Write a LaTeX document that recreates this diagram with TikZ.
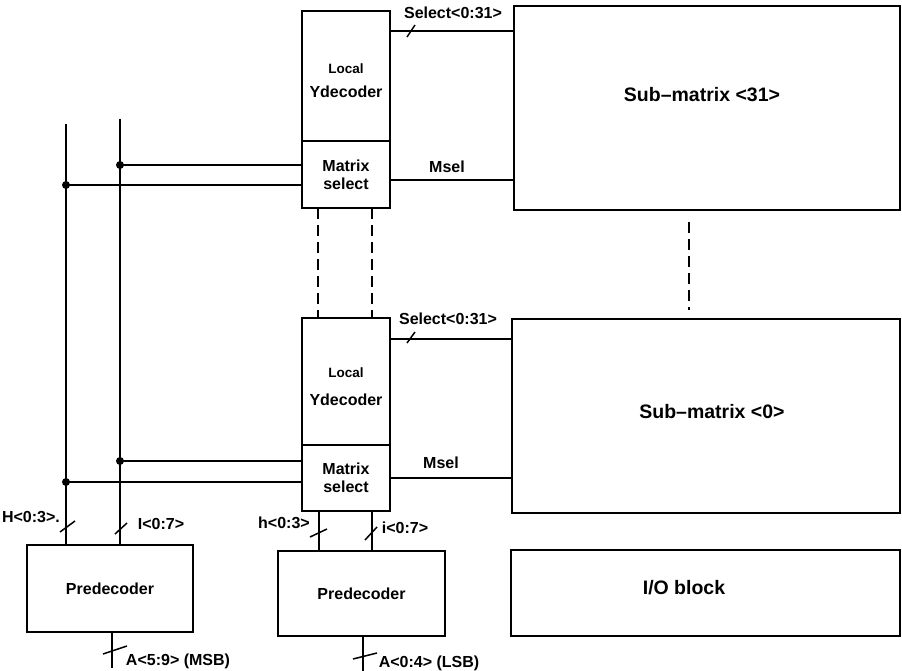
\documentclass[tikz,border=0pt]{standalone}
\usepackage{fontspec}
\setmainfont{Liberation Sans}
\usetikzlibrary{positioning,calc}

\begin{document}
\begin{tikzpicture}[x=1pt,y=-1pt,
    blk/.style={draw,line width=1.9pt,outer sep=0pt,inner sep=0pt,align=center,
      font=\fontsize{16}{18}\selectfont\bfseries},
    big/.style={font=\fontsize{19.5}{22}\selectfont\bfseries},
    lbl/.style={inner sep=0pt,font=\fontsize{16}{18}\selectfont\bfseries},
    wire/.style={line width=1.9pt},
    tick/.style={line width=1.5pt},
    dsh/.style={line width=1.9pt,dash pattern=on 11pt off 6pt}]
    \useasboundingbox (0,0) rectangle (902,671);
    % decoder column
    \node[blk,minimum width=88,minimum height=130] (ydec31) at (346,76)
      {\rule{0pt}{20pt}{\fontsize{13.5}{15}\selectfont Local}\\[6pt]Ydecoder};
    \node[blk,minimum width=88,minimum height=67,below=0pt of ydec31] (msel31) {Matrix\\select};
    \node[blk,minimum width=88,minimum height=127] (ydec0) at (346,381.5)
      {\rule{0pt}{20pt}{\fontsize{13.5}{15}\selectfont Local}\\[10pt]Ydecoder};
    \node[blk,minimum width=88,minimum height=66,below=0pt of ydec0] (msel0) {Matrix\\select};
    % sub-matrices
    \node[blk,minimum width=386,minimum height=204] (sub31) at (707,108) {};
    \node[big] (sub31txt) at (702,95) {Sub--matrix <31>};
    \node[blk,minimum width=388,minimum height=194] (sub0) at (706,416) {};
    \node[big] (sub0txt) at (712,412) {Sub--matrix <0>};
    \node[blk,minimum width=389,minimum height=86] (io) at (705.5,593) {};
    \node[big] (iotxt) at (684,588) {I/O block};
    % predecoders
    \node[blk,minimum width=166,minimum height=87] (predL) at (110,588.5) {Predecoder};
    \node[blk,minimum width=167,minimum height=85] (predR) at (361.5,593.5) {Predecoder};

    % global H / I buses
    \coordinate (Htop) at (66,124);
    \coordinate (Itop) at (120,119);
    \draw[wire] (Htop) -- (Htop |- predL.north);
    \draw[wire] (Itop) -- (Itop |- predL.north);
    \coordinate (i31) at (120,165); \coordinate (h31) at (66,185);
    \coordinate (i0) at (120,461);  \coordinate (h0) at (66,482);
    \foreach \p/\m in {i31/msel31,h31/msel31,i0/msel0,h0/msel0}{
      \draw[wire] (\p) -- (\p -| \m.west);
      \fill (\p) circle (4);
    }

    % select and msel lines
    \coordinate (s31) at (390,31);
    \coordinate (s0) at (390,339);
    \draw[wire] (s31) -- (s31 -| sub31.west);
    \draw[wire] (s0) -- (s0 -| sub0.west);
    \draw[wire] (msel31.east |- 0,180) -- (sub31.west |- 0,180);
    \draw[wire] (msel0.east |- 0,478) -- (sub0.west |- 0,478);
    \draw[tick] (407,37) -- (415,25);
    \draw[tick] (407,343) -- (415,332);
    \node[lbl] (sel31lbl) at (453,13) {Select<0:31>};
    \node[lbl] (sel0lbl) at (448,319) {Select<0:31>};
    \node[lbl] (msel31lbl) at (447,167) {Msel};
    \node[lbl] (msel0lbl) at (441,463) {Msel};

    % dashed continuation
    \coordinate (da) at (318,0); \coordinate (db) at (372,0);
    \draw[dsh] (da |- msel31.south) -- (da |- ydec0.north);
    \draw[dsh] (db |- msel31.south) -- (db |- ydec0.north);
    \draw[dsh] ($(sub31.south)+(-18,12)$) -- ($(sub0.north)+(-17,-9)$);

    % local h / i lines
    \coordinate (hl) at (319,0); \coordinate (il) at (372,0);
    \draw[wire] (hl |- msel0.south) -- (hl |- predR.north);
    \draw[wire] (il |- msel0.south) -- (il |- predR.north);

    % address inputs
    \coordinate (aL) at (112,668); \coordinate (aR) at (363,671);
    \draw[wire] (aL |- predL.south) -- (aL);
    \draw[wire] (aR |- predR.south) -- (aR);

    % bus ticks
    \draw[tick] (60,532) -- (75,521);
    \draw[tick] (115,534) -- (127,523);
    \draw[tick] (310,537) -- (327,529);
    \draw[tick] (365,540) -- (377,527);
    \draw[tick] (103,654) -- (127,646);
    \draw[tick] (353,659) -- (377,653);

    \node[lbl] (Hlbl) at (31,517) {H<0:3>.};
    \node[lbl] (Ilbl) at (161,524) {I<0:7>};
    \node[lbl] (hlbl) at (284,523) {h<0:3>};
    \node[lbl] (ilbl) at (405,528) {i<0:7>};
    \node[lbl] (aLlbl) at (178,661) {A<5:9> (MSB)};
    \node[lbl] (aRlbl) at (429,663) {A<0:4> (LSB)};
\end{tikzpicture}
\end{document}
